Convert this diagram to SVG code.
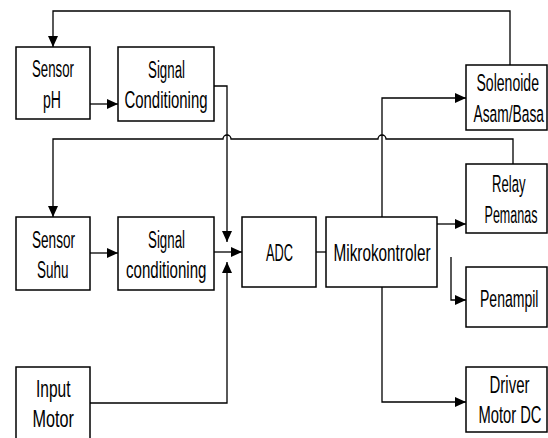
<svg xmlns="http://www.w3.org/2000/svg" width="548" height="438" viewBox="0 0 548 438">
<style>
.box{fill:#fff;stroke:#000;stroke-width:1.5}
.ln{fill:none;stroke:#000;stroke-width:1.3}
.arr{marker-end:url(#ah)}
text{font-family:"Liberation Sans",Arial,sans-serif;font-size:23.5px;fill:#000;text-anchor:middle}
</style>
<defs>
<marker id="ah" markerUnits="userSpaceOnUse" markerWidth="12" markerHeight="11" refX="11" refY="5" orient="auto">
<path d="M0,0 L11,5 L0,10 z" fill="#000"/>
</marker>
</defs>
<rect width="548" height="438" fill="#fff"/>
<g id="connectors">
<path class="ln arr" d="M510,65 V11 H53 V47"/>
<path class="ln arr" d="M90,104 H118"/>
<path class="ln arr" d="M214,86 H227 V242"/>
<path class="ln arr" d="M513,164 V139 H386 A4,4 0 0 0 378,139 H231 A4,4 0 0 0 223,139 H53 V217"/>
<path class="ln arr" d="M90,253 H118"/>
<path class="ln arr" d="M214,252 H242"/>
<path class="ln arr" d="M90,403 H227 V262"/>
<path class="ln" d="M316,252 H326"/>
<path class="ln arr" d="M382,217 V98 H466"/>
<path class="ln arr" d="M437,224 H466"/>
<path class="ln arr" d="M451,257 V300 H466"/>
<path class="ln arr" d="M382,287 V402 H466"/>
</g>
<g id="sensor-ph">
<rect class="box" x="16" y="47" width="74" height="72"/>
<text transform="translate(53,76.5) scale(0.564,1)">Sensor</text>
<text transform="translate(52,107.5) scale(0.6,1)">pH</text>
</g>
<g id="signal-conditioning-1">
<rect class="box" x="118" y="47" width="96" height="74"/>
<text transform="translate(166.5,77.5) scale(0.567,1)">Signal</text>
<text transform="translate(166,108) scale(0.636,1)">Conditioning</text>
</g>
<g id="sensor-suhu">
<rect class="box" x="16" y="217" width="74" height="73"/>
<text transform="translate(53.5,247.5) scale(0.578,1)">Sensor</text>
<text transform="translate(52.75,278) scale(0.574,1)">Suhu</text>
</g>
<g id="signal-conditioning-2">
<rect class="box" x="118" y="217" width="96" height="73"/>
<text transform="translate(166.5,247.5) scale(0.567,1)">Signal</text>
<text transform="translate(166.25,278) scale(0.642,1)">conditioning</text>
</g>
<g id="input-motor">
<rect class="box" x="16" y="367" width="74" height="80"/>
<text transform="translate(53.25,397) scale(0.66,1)">Input</text>
<text transform="translate(53.25,427) scale(0.69,1)">Motor</text>
</g>
<g id="adc">
<rect class="box" x="242" y="217" width="74" height="70"/>
<text transform="translate(279.5,260.5) scale(0.544,1)">ADC</text>
</g>
<g id="mikrokontroler">
<rect class="box" x="326" y="217" width="111" height="70"/>
<text transform="translate(382,261) scale(0.652,1)">Mikrokontroler</text>
</g>
<g id="solenoide">
<rect class="box" x="466" y="65" width="81" height="65"/>
<text transform="translate(507.75,91) scale(0.598,1)">Solenoide</text>
<text transform="translate(508.75,121.5) scale(0.587,1)">Asam/Basa</text>
</g>
<g id="relay">
<rect class="box" x="466" y="164" width="81" height="69"/>
<text transform="translate(508.75,192) scale(0.557,1)">Relay</text>
<text transform="translate(511,222.5) scale(0.534,1)">Pemanas</text>
</g>
<g id="penampil">
<rect class="box" x="466" y="267" width="81" height="60"/>
<text transform="translate(509.25,307) scale(0.597,1)">Penampil</text>
</g>
<g id="driver">
<rect class="box" x="466" y="367" width="81" height="65"/>
<text transform="translate(509.5,393) scale(0.638,1)">Driver</text>
<text transform="translate(510,423) scale(0.627,1)">Motor DC</text>
</g>
</svg>
